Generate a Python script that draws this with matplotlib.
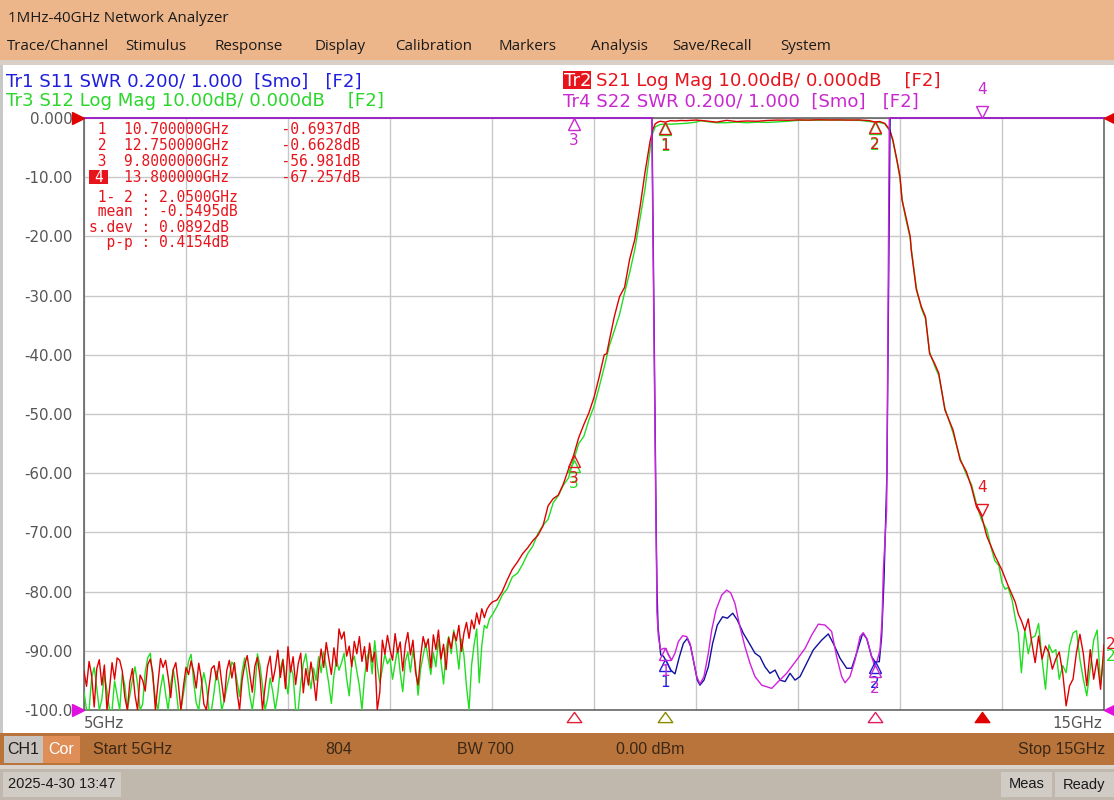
import numpy as np
import matplotlib
matplotlib.use("Agg")
import matplotlib.pyplot as plt
from matplotlib.patches import Rectangle
from matplotlib.path import Path
from matplotlib.transforms import offset_copy

# ---------------- data ----------------
freq_start = 5.0
freq_stop = 15.0
freq_ticks = [5, 6, 7, 8, 9, 10, 11, 12, 13, 14, 15]
db_ticks = [0, -10, -20, -30, -40, -50, -60, -70, -80, -90, -100]
db_tick_labels = ["0.000", "-10.00", "-20.00", "-30.00", "-40.00", "-50.00",
                  "-60.00", "-70.00", "-80.00", "-90.00", "-100.0"]
swr_ref = 1.0
swr_per_div = 0.2
db_per_div = 10.0

# noise floor, 5 - 9 GHz (sampled every 25 MHz)
noise_lo_freq = np.linspace(5.0, 9.0, 161)
s21_noise_lo = [
    -93.5, -96.0, -91.8, -94.2, -99.5, -93.0, -91.5, -95.8,
    -92.4, -100.0, -96.5, -92.0, -94.8, -91.2, -91.6, -93.4,
    -97.8, -100.0, -95.2, -93.0, -97.5, -100.0, -94.1, -95.0,
    -96.8, -92.3, -91.4, -93.8, -100.0, -95.5, -91.3, -92.8,
    -91.6, -94.4, -97.9, -93.2, -92.0, -95.6, -100.0, -96.0,
    -92.8, -94.0, -91.7, -93.5, -96.3, -92.1, -94.7, -99.0,
    -100.0, -96.2, -93.0, -92.5, -94.9, -91.8, -95.4, -98.6,
    -93.3, -91.6, -94.6, -92.0, -96.9, -100.0, -95.0, -92.4,
    -90.8, -93.9, -97.0, -92.6, -91.1, -94.3, -100.0, -96.1,
    -92.7, -90.9, -95.2, -93.0, -89.9, -94.5, -91.5, -96.4,
    -89.3, -93.6, -91.0, -95.7, -92.2, -90.4, -97.1, -93.0,
    -95.8, -91.9, -94.7, -98.4, -93.2, -89.7, -92.8, -88.6,
    -91.3, -94.0, -89.5, -92.6, -86.3, -88.0, -86.8, -90.9,
    -89.2, -92.7, -88.4, -90.5, -87.6, -91.8, -89.3, -93.5,
    -88.7, -91.9, -90.2, -100.0, -97.0, -88.2, -90.6, -87.4,
    -89.8, -91.6, -87.1, -90.3, -88.5, -93.4, -89.0, -86.9,
    -90.7, -88.2, -93.5, -95.8, -91.0, -87.6, -89.4, -88.0,
    -92.9, -87.3, -89.8, -86.5, -91.4, -88.9, -93.2, -87.8,
    -89.6, -86.9, -88.3, -85.7, -90.1, -87.0, -85.2, -87.9,
    -84.8, -86.3, -83.6, -85.5, -82.9, -84.4, -83.0, -82.3,
    -81.8]
s12_noise_lo = [
    -97.0, -100.0, -100.0, -94.5, -92.8, -96.3, -100.0, -98.2,
    -94.0, -96.7, -100.0, -100.0, -95.1, -97.6, -100.0, -93.9,
    -95.8, -100.0, -97.4, -94.9, -92.7, -95.5, -100.0, -99.0,
    -93.6, -91.2, -90.4, -94.8, -97.9, -100.0, -96.4, -94.0,
    -97.3, -100.0, -95.6, -93.1, -96.0, -100.0, -100.0, -97.2,
    -94.5, -91.8, -90.6, -95.2, -98.8, -100.0, -96.0, -93.7,
    -95.9, -100.0, -100.0, -97.0, -93.4, -95.8, -100.0, -98.4,
    -96.2, -94.3, -91.9, -92.6, -95.0, -97.7, -93.5, -91.2,
    -94.0, -97.5, -100.0, -96.6, -90.5, -92.4, -95.9, -100.0,
    -98.1, -94.6, -96.8, -100.0, -97.2, -93.0, -91.4, -94.7,
    -97.3, -92.6, -94.1, -100.0, -100.0, -95.5, -92.2, -90.5,
    -93.8, -96.4, -92.9, -95.0, -91.0, -93.7, -90.2, -92.8,
    -95.6, -98.9, -94.2, -91.5, -93.3, -92.0, -90.4, -94.7,
    -97.6, -92.1, -90.9, -93.4, -96.0, -100.0, -94.5, -91.2,
    -89.7, -93.9, -88.3, -92.5, -95.4, -93.0, -90.6, -92.2,
    -91.3, -94.8, -92.1, -89.5, -93.7, -96.9, -91.8, -90.2,
    -93.6, -89.9, -92.4, -97.5, -93.1, -90.8, -88.7, -91.4,
    -94.0, -90.3, -92.7, -88.1, -91.9, -95.6, -89.8, -87.6,
    -90.5, -86.5, -89.2, -93.1, -88.0, -90.8, -96.0, -100.0,
    -92.4, -88.9, -86.3, -95.4, -89.1, -85.7, -86.2, -84.6,
    -84.0]

# skirts and passband
s21_edge_freq = [9.05, 9.1, 9.15, 9.2, 9.25, 9.3, 9.35, 9.4, 9.45, 9.5, 9.55, 9.6,
                 9.65, 9.7, 9.75, 9.8, 9.85, 9.9, 9.95, 10.0, 10.05, 10.1, 10.125,
                 10.15, 10.2, 10.25, 10.3, 10.35, 10.4, 10.45, 10.5, 10.55, 10.575,
                 10.6, 10.625, 10.65, 10.7, 10.75, 10.8, 10.85, 10.9, 11.0, 11.1,
                 11.2, 11.3, 11.4, 11.5, 11.6, 11.7, 11.8, 11.9, 12.0, 12.1, 12.2,
                 12.3, 12.4, 12.5, 12.6, 12.7, 12.75, 12.8, 12.85, 12.9, 12.93,
                 12.97, 13.0, 13.02, 13.05, 13.1, 13.11, 13.16, 13.21, 13.25, 13.29,
                 13.34, 13.38, 13.44, 13.52, 13.59, 13.65, 13.7, 13.75, 13.8, 13.85,
                 13.93, 14.0, 14.06, 14.13, 14.16]
s21_edge_db = [-81.4, -80.0, -78.0, -76.2, -75.0, -73.6, -72.6, -71.4, -70.5, -68.9,
               -65.5, -64.3, -63.7, -61.8, -59.3, -56.981, -54.0, -51.8, -49.8, -47.2,
               -43.8, -40.0, -39.8, -37.6, -33.5, -30.2, -28.6, -23.8, -20.5, -15.2,
               -9.2, -3.9, -2.0, -1.0, -0.7, -0.55, -0.6937, -0.45, -0.5, -0.42, -0.45,
               -0.35, -0.5, -0.7, -0.4, -0.6, -0.5, -0.55, -0.42, -0.35, -0.38, -0.32,
               -0.35, -0.3, -0.33, -0.32, -0.35, -0.33, -0.45, -0.6628, -0.6, -0.9,
               -2.0, -3.7, -7.1, -9.9, -13.9, -16.1, -20.0, -22.3, -29.0, -31.9, -33.6,
               -39.8, -41.5, -43.1, -49.3, -52.7, -57.8, -59.7, -62.3, -65.7, -67.257,
               -70.6, -73.9, -76.4, -79.0, -81.8, -83.8]
s12_edge_freq = [9.05, 9.1, 9.15, 9.2, 9.25, 9.3, 9.35, 9.4, 9.45, 9.5, 9.55, 9.6,
                 9.65, 9.7, 9.75, 9.8, 9.85, 9.9, 9.95, 10.0, 10.05, 10.1, 10.15,
                 10.2, 10.25, 10.3, 10.35, 10.4, 10.45, 10.5, 10.55, 10.575, 10.6,
                 10.65, 10.7, 10.75, 10.8, 10.9, 11.0, 11.05, 11.1, 11.2, 11.3, 11.4,
                 11.5, 11.6, 11.7, 11.8, 11.9, 12.0, 12.1, 12.2, 12.3, 12.4, 12.5,
                 12.6, 12.7, 12.75, 12.8, 12.85, 12.9, 12.93, 12.97, 13.0, 13.02,
                 13.05, 13.1, 13.11, 13.16, 13.21, 13.25, 13.29, 13.34, 13.38, 13.44,
                 13.52, 13.59, 13.65, 13.7, 13.75, 13.8, 13.85, 13.9, 13.93, 13.97,
                 14.0, 14.03, 14.06, 14.1, 14.13, 14.16]
s12_edge_db = [-82.5, -80.6, -79.5, -77.5, -76.9, -75.4, -73.6, -72.3, -70.2, -68.8,
               -67.8, -65.0, -63.8, -62.0, -60.8, -57.8, -55.0, -53.8, -51.0, -48.7,
               -45.5, -42.1, -38.5, -35.9, -33.2, -29.5, -26.1, -22.2, -17.1, -12.0,
               -5.2, -2.6, -1.5, -1.1, -1.0, -1.05, -1.0, -0.9, -0.7, -0.45, -0.6,
               -0.8, -0.8, -0.7, -0.8, -0.7, -0.75, -0.65, -0.55, -0.4, -0.38, -0.35,
               -0.34, -0.36, -0.35, -0.4, -0.6, -0.7, -0.75, -0.95, -2.2, -3.9, -7.3,
               -10.2, -13.6, -16.5, -20.3, -22.0, -28.6, -32.2, -33.9, -39.5, -41.9,
               -43.5, -49.0, -53.2, -57.5, -60.2, -61.9, -65.2, -67.9, -69.5, -73.0,
               -74.8, -75.6, -78.5, -79.6, -79.3, -81.5, -84.5, -87.0]

# noise floor above the band
noise_hi_freq = np.linspace(14.19, 15.0, 25)
s21_noise_hi = [-84.9, -86.6, -84.6, -88.5, -92.0, -87.5, -91.4, -89.2, -90.3, -93.1,
                -91.4, -90.2, -93.7, -99.3, -95.9, -94.8, -90.3, -87.2, -90.5, -95.9,
                -89.8, -94.8, -91.4, -96.5, -89.0]
s12_noise_hi = [-93.7, -86.6, -90.5, -87.8, -87.5, -85.4, -91.4, -96.5, -89.0, -90.3,
                -89.8, -94.8, -92.5, -93.7, -89.2, -87.0, -86.6, -91.4, -94.8, -97.6,
                -93.0, -88.2, -86.5, -95.5, -91.0]

# SWR traces (values above 3.0 are pinned to the top edge on screen)
s22_freq = [5.0, 10.566, 10.59, 10.607, 10.614, 10.617, 10.631, 10.654, 10.680, 10.706,
            10.729, 10.761, 10.794, 10.827, 10.869, 10.909, 10.941, 10.974, 11.007,
            11.039, 11.078, 11.121, 11.154, 11.196, 11.252, 11.301, 11.340, 11.382,
            11.431, 11.480, 11.529, 11.578, 11.644, 11.742, 11.807, 11.889, 11.987,
            12.069, 12.134, 12.199, 12.265, 12.330, 12.379, 12.428, 12.461, 12.510,
            12.559, 12.608, 12.641, 12.680, 12.722, 12.755, 12.778, 12.804, 12.824,
            12.837, 12.869, 12.882, 12.895, 15.0]
s22_swr = [3.0, 3.0, 2.2, 1.65, 1.45, 1.33, 1.248, 1.203, 1.208, 1.208, 1.186, 1.169,
           1.192, 1.231, 1.251, 1.248, 1.225, 1.169, 1.113, 1.088, 1.113, 1.192, 1.270,
           1.338, 1.388, 1.405, 1.396, 1.360, 1.281, 1.214, 1.158, 1.113, 1.084, 1.073,
           1.096, 1.124, 1.169, 1.208, 1.253, 1.290, 1.287, 1.265, 1.180, 1.113, 1.092,
           1.113, 1.169, 1.248, 1.261, 1.236, 1.180, 1.146, 1.169, 1.203, 1.304, 1.473,
           1.676, 2.3, 3.0, 3.0]
s11_freq = [5.0, 10.568, 10.592, 10.61, 10.618, 10.628, 10.654, 10.680, 10.712, 10.752,
            10.794, 10.837, 10.876, 10.915, 10.948, 10.980, 11.013, 11.039, 11.078,
            11.121, 11.163, 11.209, 11.261, 11.307, 11.360, 11.405, 11.464, 11.513,
            11.578, 11.627, 11.676, 11.725, 11.775, 11.824, 11.873, 11.922, 11.971,
            12.020, 12.085, 12.150, 12.232, 12.297, 12.346, 12.412, 12.477, 12.526,
            12.575, 12.634, 12.673, 12.722, 12.755, 12.797, 12.820, 12.843, 12.872,
            12.903, 15.0]
s11_swr = [3.0, 3.0, 2.2, 1.6, 1.40, 1.28, 1.186, 1.182, 1.163, 1.135, 1.122, 1.180,
           1.225, 1.242, 1.214, 1.158, 1.101, 1.084, 1.101, 1.146, 1.225, 1.287, 1.315,
           1.310, 1.327, 1.304, 1.259, 1.231, 1.192, 1.180, 1.146, 1.124, 1.135, 1.101,
           1.096, 1.124, 1.101, 1.113, 1.158, 1.203, 1.236, 1.257, 1.225, 1.175, 1.141,
           1.141, 1.192, 1.259, 1.242, 1.180, 1.163, 1.163, 1.248, 1.439, 1.8, 3.0, 3.0]

# markers
marker_ids = ["1", "2", "3", "4"]
marker_freq = [10.7, 12.75, 9.8, 13.8]
marker_s21 = [-0.6937, -0.6628, -56.981, -67.257]
active_marker = 3
stat_mean = -0.5495
stat_sdev = 0.0892
stat_pp = 0.4154

# ---------------- colours ----------------
C_RED = "#E00000"
C_RED_TXT = "#E8141C"
C_GREEN = "#22DD22"
C_GREEN_TXT = "#2BD62B"
C_BLUE = "#10109E"
C_BLUE_TXT = "#1E1EDC"
C_MAG = "#D020DC"
C_MAG_TXT = "#C828D0"
C_BAR = "#EDB68A"
C_STATUS = "#B8743A"
C_BOTTOM = "#C0B8AC"
C_AXTXT = "#555555"

W, H = 1114, 800
fig = plt.figure(figsize=(W / 100, H / 100), dpi=100)
fig.patch.set_facecolor("white")


def fx(x):
    return x / W


def fy(y):
    return 1 - y / H


def rect(x, y, w, h, color, z=0):
    fig.add_artist(Rectangle((fx(x), fy(y + h)), w / W, h / H, transform=fig.transFigure,
                             facecolor=color, edgecolor="none", zorder=z))


renderer = fig.canvas.get_renderer()


def fit_size(s, width, family, base=10.0):
    t = fig.text(0, 0, s, fontsize=base, family=family)
    bb = t.get_window_extent(renderer=renderer)
    t.remove()
    return base * width / bb.width


def ftext(x, y, s, **kw):
    return fig.text(fx(x), fy(y), s, **kw)


# ---------------- frame of the instrument window ----------------
rect(0, 0, W, 60, C_BAR)
rect(0, 60, W, 5, "#D8D0C8")
rect(0, 65, 3, 668, "#C8C8C8")
rect(0, 733, W, 32, C_STATUS)
rect(0, 765, W, 4, "#D8D3CD")
rect(0, 769, W, 31, C_BOTTOM)

TITLE_FONT = ["Open Sans", "DejaVu Sans"]
fs_title = fit_size("1MHz-40GHz Network Analyzer", 221, TITLE_FONT)
ftext(8, 21.5, "1MHz-40GHz Network Analyzer", fontsize=fs_title, family=TITLE_FONT,
      color="#1A1A1A", va="baseline")
menu_items = ["Trace/Channel", "Stimulus", "Response", "Display", "Calibration",
              "Markers", "Analysis", "Save/Recall", "System"]
menu_x = [7, 125, 214, 314, 395, 499, 591, 672, 780]
for s, x in zip(menu_items, menu_x):
    ftext(x, 50, s, fontsize=fs_title, family=TITLE_FONT, color="#1A1A1A", va="baseline")

# trace header lines
HF = ["DejaVu Sans"]
l1 = "Tr1 S11 SWR 0.200/ 1.000  [Smo]   [F2]"
fs_hdr = fit_size(l1, 356, HF)
ftext(6, 86.5, l1, fontsize=fs_hdr, family=HF, color=C_BLUE_TXT, va="baseline")
ftext(6, 106.5, "Tr3 S12 Log Mag 10.00dB/ 0.000dB    [F2]", fontsize=fs_hdr, family=HF,
      color=C_GREEN_TXT, va="baseline")
rect(563, 71, 28, 18, C_RED_TXT, z=1)
ftext(564.5, 86.5, "Tr2", fontsize=fs_hdr, family=HF, color="white", va="baseline")
ftext(596, 86.5, "S21 Log Mag 10.00dB/ 0.000dB    [F2]", fontsize=fs_hdr, family=HF,
      color=C_RED_TXT, va="baseline")
ftext(563, 106.5, "Tr4 S22 SWR 0.200/ 1.000  [Smo]   [F2]", fontsize=fs_hdr, family=HF,
      color=C_MAG_TXT, va="baseline")

# ---------------- plot area ----------------
ax = fig.add_axes([fx(84), fy(710), 1020 / W, 592 / H])
ax.set_xlim(freq_start, freq_stop)
ax.set_ylim(-100, 0)
ax.set_xticks(freq_ticks)
ax.set_yticks(db_ticks)
ax.set_xticklabels([])
ax.set_yticklabels(db_tick_labels, fontsize=10.8, color=C_AXTXT)
ax.tick_params(axis="both", length=0)
ax.tick_params(axis="y", pad=8)
ax.set_axisbelow(True)
ax.grid(True, color="#C8C8C8", lw=1.0)
for sp in ax.spines.values():
    sp.set_color("#5A5A5A")
    sp.set_linewidth(1.1)

s21_f = np.concatenate([noise_lo_freq, s21_edge_freq, noise_hi_freq])
s21_db = np.clip(np.concatenate([s21_noise_lo, s21_edge_db, s21_noise_hi]), -100, 0)
s12_f = np.concatenate([noise_lo_freq, s12_edge_freq, noise_hi_freq])
s12_db = np.clip(np.concatenate([s12_noise_lo, s12_edge_db, s12_noise_hi]), -100, 0)


def swr_to_screen(v):
    return np.minimum(-100 + (np.asarray(v) - swr_ref) / swr_per_div * db_per_div, 0)


s11_disp = swr_to_screen(s11_swr)
s22_disp = swr_to_screen(s22_swr)

ax.plot(s12_f, s12_db, color=C_GREEN, lw=1.0, zorder=3)
ax.plot(s21_f, s21_db, color=C_RED, lw=1.0, zorder=4)
ax.plot(s11_freq, s11_disp, color=C_BLUE, lw=1.0, zorder=5, clip_on=False)
ax.plot(s22_freq, s22_disp, color=C_MAG, lw=1.0, zorder=6, clip_on=False)


def trace_marker(x, y, color, label, down=False, z=8):
    ms = 9 if down else 8
    if down:
        tri = offset_copy(ax.transData, fig=fig, x=0, y=ms / 2, units="points")
        lab = offset_copy(ax.transData, fig=fig, x=0, y=20.5, units="points")
        m = "v"
    else:
        tri = offset_copy(ax.transData, fig=fig, x=0, y=-ms / 2, units="points")
        lab = offset_copy(ax.transData, fig=fig, x=0, y=-16.5, units="points")
        m = "^"
    ax.plot([x], [y], marker=m, ms=ms, mfc="none", mec=color, mew=1.0,
            transform=tri, clip_on=False, zorder=z)
    ax.text(x, y, label, transform=lab, ha="center", va="center", color=color,
            fontsize=11, clip_on=False, zorder=z)


s12_mk = np.interp(marker_freq, s12_f, s12_db)
s11_mk = np.interp(marker_freq, s11_freq, s11_disp)
s22_mk = np.interp(marker_freq, s22_freq, s22_disp)

for i in range(3):
    trace_marker(marker_freq[i], s12_mk[i], C_GREEN, marker_ids[i], z=8)
for i in range(4):
    trace_marker(marker_freq[i], marker_s21[i], C_RED_TXT, marker_ids[i],
                 down=(i == active_marker), z=9)
for i in range(2):
    trace_marker(marker_freq[i], s11_mk[i], C_BLUE_TXT, marker_ids[i], z=10)
for i in range(4):
    trace_marker(marker_freq[i], s22_mk[i], C_MAG_TXT, marker_ids[i],
                 down=(i == active_marker), z=11)

# marker position indicators below the frequency axis
flat_tri = Path([(-5, -3.5), (5, -3.5), (0, 3.5), (-5, -3.5)],
                [Path.MOVETO, Path.LINETO, Path.LINETO, Path.CLOSEPOLY])
axis_mk_colors = ["#8A8A00", "#E0205E", "#E02038", "#E00000"]
tr_axis = offset_copy(ax.transData, fig=fig, x=0, y=-5.0, units="points")
for i in range(4):
    filled = (i == active_marker)
    ax.plot([marker_freq[i]], [-100], marker=flat_tri, ms=10.5, linestyle="none",
            markerfacecolor=axis_mk_colors[i] if filled else "none",
            markeredgecolor=axis_mk_colors[i], markeredgewidth=1.0,
            transform=tr_axis, clip_on=False, zorder=8)

# reference level pointers on both sides
tl = offset_copy(ax.transData, fig=fig, x=-4, y=0, units="points")
trr = offset_copy(ax.transData, fig=fig, x=4, y=0, units="points")
ax.plot([freq_start], [0], marker=">", ms=8, color="#E00000", transform=tl, clip_on=False, zorder=12)
ax.plot([freq_start], [-100], marker=">", ms=8, color="#E010E0", transform=tl, clip_on=False, zorder=12)
ax.plot([freq_stop], [0], marker="<", ms=8, color="#E00000", transform=trr, clip_on=False, zorder=12)
ax.plot([freq_stop], [-100], marker="<", ms=8, color="#E010E0", transform=trr, clip_on=False, zorder=12)
tr2 = offset_copy(ax.transData, fig=fig, x=1.5, y=0, units="points")
ax.text(freq_stop, s12_db[-1], "2", transform=tr2, color=C_GREEN, fontsize=11,
        ha="left", va="center", clip_on=False, zorder=12)
ax.text(freq_stop, s21_db[-1], "2", transform=tr2, color=C_RED_TXT, fontsize=11,
        ha="left", va="center", clip_on=False, zorder=12)

# frequency labels
ftext(84, 723, "5GHz", fontsize=10.8, color=C_AXTXT, va="center", ha="left")
ftext(1102, 723, "15GHz", fontsize=10.8, color=C_AXTXT, va="center", ha="right")

# ---------------- marker table ----------------
MONO = ["DejaVu Sans Mono"]


def fmt_freq(f):
    return f"{f:.{8 - len(str(int(f)))}f}GHz"


def fmt_db(v):
    return f"{v:.{5 - len(str(int(abs(v))))}f}dB"


row_y = [130, 145.5, 161, 177]
for i in range(4):
    num = " " if i == active_marker else marker_ids[i]
    s = f" {num}  {fmt_freq(marker_freq[i]):<12s}      {fmt_db(marker_s21[i])}"
    ftext(89.3, row_y[i], s, fontsize=10.5, family=MONO, color=C_RED_TXT, va="center",
          zorder=5)
rect(89.3, row_y[active_marker] - 7, 19, 14, C_RED_TXT, z=4)
ftext(98.8, row_y[active_marker], marker_ids[active_marker], fontsize=10.5, family=MONO,
      color="white", va="center", ha="center", zorder=6)
stats = [f" 1- 2 : {marker_freq[1] - marker_freq[0]:.4f}GHz",
         f" mean : {stat_mean:.4f}dB",
         f"s.dev : {stat_sdev:.4f}dB",
         f"  p-p : {stat_pp:.4f}dB"]
for s, y in zip(stats, [197, 212, 227, 242]):
    ftext(89.3, y, s, fontsize=10.5, family=MONO, color=C_RED_TXT, va="center", zorder=5)

# ---------------- status bars ----------------
SF = ["Liberation Sans", "DejaVu Sans"]
rect(4, 736, 39, 27, "#C8C3BE", z=1)
rect(43, 736, 37, 27, "#E08E58", z=1)
ftext(23.5, 749.5, "CH1", fontsize=11.5, family=SF, color="#1C1C1C", ha="center", va="center")
ftext(61.5, 749.5, "Cor", fontsize=11.5, family=SF, color="white", ha="center", va="center")
SC = "#3A2716"
ftext(93, 749.5, "Start 5GHz", fontsize=11.5, family=SF, color=SC, va="center")
ftext(325, 749.5, "804", fontsize=11.5, family=SF, color=SC, va="center")
ftext(457, 749.5, "BW 700", fontsize=11.5, family=SF, color=SC, va="center")
ftext(616, 749.5, "0.00 dBm", fontsize=11.5, family=SF, color=SC, va="center")
ftext(1105, 749.5, "Stop 15GHz", fontsize=11.5, family=SF, color=SC, va="center", ha="right")

rect(3, 772, 118, 25, "#D0CBC4", z=1)
ftext(62, 784.5, "2025-4-30 13:47", fontsize=10.5, family=SF, color="#1A1A1A",
      ha="center", va="center")
rect(1001, 772, 51, 25, "#D0CBC4", z=1)
rect(1055, 772, 59, 25, "#D0CBC4", z=1)
ftext(1026.5, 784.5, "Meas", fontsize=10.5, family=SF, color="#1A1A1A", ha="center", va="center")
ftext(1084, 784.5, "Ready", fontsize=10.5, family=SF, color="#1A1A1A", ha="center", va="center")

fig.savefig("out.png", dpi=100)
